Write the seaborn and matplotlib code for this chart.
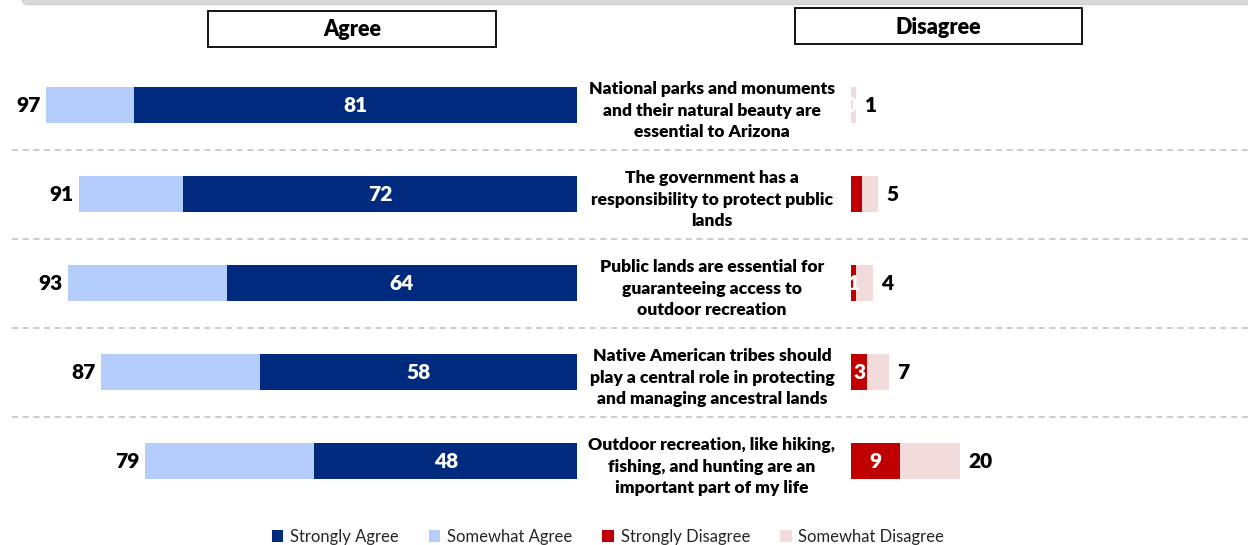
import matplotlib
matplotlib.use("Agg")
import matplotlib.pyplot as plt
import matplotlib.transforms as mtransforms
from matplotlib.patches import Rectangle, FancyBboxPatch, Patch
from matplotlib import font_manager
import seaborn as sns
import pandas as pd

# ---------------- data ----------------
statements = [
    "National parks and monuments\nand their natural beauty are\nessential to Arizona",
    "The government has a\nresponsibility to protect public\nlands",
    "Public lands are essential for\nguaranteeing access to\noutdoor recreation",
    "Native American tribes should\nplay a central role in protecting\nand managing ancestral lands",
    "Outdoor recreation, like hiking,\nfishing, and hunting are an\nimportant part of my life",
]
strongly_agree = [81, 72, 64, 58, 48]
total_agree = [97, 91, 93, 87, 79]
strongly_disagree = [0, 2, 1, 3, 9]
total_disagree = [1, 5, 4, 7, 20]
sd_labels = ["0", "", "1", "3", "9"]
series_names = ["Strongly Agree", "Somewhat Agree", "Strongly Disagree", "Somewhat Disagree"]
headers = ["Agree", "Disagree"]

C_SA = "#002A7D"
C_WA = "#B4CDFB"
C_SD = "#C00000"
C_WD = "#F2DCDB"

# ---------------- fonts ----------------
sns.set_theme(style="white")
names = {f.name for f in font_manager.fontManager.ttflist}
fam = None
for cand in ["Liberation Sans Narrow", "Lato", "Liberation Sans"]:
    if cand in names:
        fam = cand
        break
plt.rcParams["font.family"] = [fam, "DejaVu Sans"] if fam else ["DejaVu Sans"]
BOLD = "heavy"

df = pd.DataFrame({
    "statement": statements,
    "strongly_agree": strongly_agree,
    "total_agree": total_agree,
    "strongly_disagree": strongly_disagree,
    "total_disagree": total_disagree,
})

W, H = 1248, 545
fig = plt.figure(figsize=(W / 100, H / 100), dpi=100)
fig.patch.set_facecolor("white")

# background axes in pixel coordinates
ax_bg = fig.add_axes([0, 0, 1, 1], zorder=0)
ax_bg.set_xlim(0, W)
ax_bg.set_ylim(H, 0)
ax_bg.axis("off")

ax_l = fig.add_axes([0, 0, 577 / W, 1], zorder=1)
ax_r = fig.add_axes([851 / W, 0, (W - 851) / W, 1], zorder=1)

bw = 0.40
sns.barplot(data=df, x="total_agree", y="statement", orient="h", color=C_WA,
            width=bw, ax=ax_l, saturation=1, linewidth=0)
sns.barplot(data=df, x="strongly_agree", y="statement", orient="h", color=C_SA,
            width=bw, ax=ax_l, saturation=1, linewidth=0)
sns.barplot(data=df, x="total_disagree", y="statement", orient="h", color=C_WD,
            width=bw, ax=ax_r, saturation=1, linewidth=0)
sns.barplot(data=df, x="strongly_disagree", y="statement", orient="h", color=C_SD,
            width=bw, ax=ax_r, saturation=1, linewidth=0)

ylim = (4.94, -1.18)
for ax in (ax_l, ax_r):
    ax.set_ylim(*ylim)
    ax.axis("off")
    ax.patch.set_alpha(0)
ax_l.set_xlim(105.5, 0)
ax_r.set_xlim(0, (W - 851) / 5.47)

fs_val = 15
for i in range(len(statements)):
    ax_l.annotate(str(total_agree[i]), xy=(total_agree[i], i), xytext=(-4, 0),
                  textcoords="offset points", ha="right", va="center",
                  fontsize=fs_val, fontweight=BOLD, color="black")
    ax_l.text(strongly_agree[i] / 2, i, str(strongly_agree[i]), ha="center", va="center",
              fontsize=fs_val, fontweight=BOLD, color="white")
    ax_r.annotate(str(total_disagree[i]), xy=(total_disagree[i], i), xytext=(6, 0),
                  textcoords="offset points", ha="left", va="center",
                  fontsize=fs_val, fontweight=BOLD, color="black")
    if sd_labels[i]:
        ax_r.text(strongly_disagree[i] / 2, i, sd_labels[i], ha="center", va="center",
                  fontsize=fs_val, fontweight=BOLD, color="white", zorder=5)

# statements in the middle
tr = mtransforms.blended_transform_factory(fig.transFigure, ax_l.transData)
for i, s in enumerate(statements):
    ax_l.annotate(s, xy=(712 / W, i), xycoords=tr, xytext=(0, -4),
                  textcoords="offset points", ha="center", va="center",
                  fontsize=12.6, fontweight=BOLD, color="black", linespacing=1.42,
                  annotation_clip=False)

# dashed separators
tr2 = mtransforms.blended_transform_factory(ax_bg.transData, ax_l.transData)
for i in range(len(statements) - 1):
    ax_bg.plot([12, W], [i + 0.5, i + 0.5], transform=tr2, color="#BFBFBF",
               lw=1.1, linestyle=(0, (4, 3)))

# header boxes
for (x0, y0, w, h), t in zip([(208, 11, 288, 36), (795, 8, 287, 36)], headers):
    ax_bg.add_patch(Rectangle((x0, y0), w, h, facecolor="white", edgecolor="black", lw=1.3))
    ax_bg.text(x0 + w / 2, y0 + h / 2 + 1, t, ha="center", va="center",
               fontsize=15.5, fontweight=BOLD, color="black")

# top grey band (cut-off frame above)
ax_bg.add_patch(FancyBboxPatch((22, -30), W + 40, 34.5,
                               boxstyle="round,pad=0,rounding_size=6",
                               facecolor="#D9D9D9", edgecolor="#D0D0D0", lw=1))

# legend
handles = [Patch(facecolor=c, edgecolor="none") for c in (C_SA, C_WA, C_SD, C_WD)]
fig.legend(handles, series_names, loc="center", ncol=4,
           bbox_to_anchor=(608 / W, 1 - 537 / H), frameon=False, fontsize=12,
           handlelength=0.7, handleheight=0.7, handletextpad=0.4, columnspacing=1.8)

fig.savefig("out.png", dpi=100, facecolor="white")
